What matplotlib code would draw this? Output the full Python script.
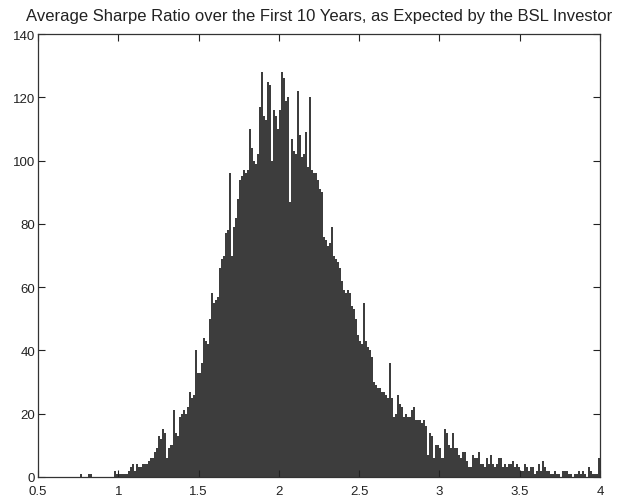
"""Histogram of the average Sharpe ratio expected by the BSL investor"""

import numpy as np
import matplotlib
matplotlib.use("Agg")
import matplotlib.pyplot as plt

plt.rcParams["font.family"] = ["Liberation Sans", "DejaVu Sans"]

bin_start = 0.75
bin_width = 0.0125
# counts per bin, one row = 0.25 in Sharpe ratio
counts = [
    0, 1, 0, 0, 0, 1, 1, 0, 0, 0, 0, 0, 0, 0, 0, 0, 0, 0, 2, 1,            # 0.75
    1, 1, 1, 1, 1, 2, 3, 4, 2, 4, 3, 3, 4, 4, 4, 5, 6, 6, 8, 9,            # 1.00
    13, 12, 15, 14, 6, 9, 10, 21, 14, 13, 19, 20, 21, 20, 22, 27, 25, 26, 40, 33,  # 1.25
    33, 36, 44, 43, 42, 50, 58, 55, 56, 57, 66, 69, 70, 77, 78, 96, 70, 79, 82, 88,  # 1.50
    94, 95, 97, 96, 97, 110, 104, 100, 99, 102, 117, 128, 114, 113, 125, 124, 100, 116, 114, 110,  # 1.75
    116, 128, 126, 119, 120, 87, 107, 103, 102, 122, 108, 101, 102, 109, 98, 120, 97, 96, 96, 94,  # 2.00
    91, 90, 76, 75, 73, 74, 79, 70, 69, 68, 66, 62, 59, 58, 59, 58, 54, 53, 50, 45,  # 2.25
    43, 42, 55, 43, 41, 40, 38, 30, 29, 28, 28, 27, 27, 26, 25, 36, 25, 19, 20, 26,  # 2.50
    23, 22, 19, 20, 19, 19, 21, 22, 18, 18, 18, 17, 18, 16, 7, 14, 13, 6, 10, 10,  # 2.75
    9, 6, 15, 14, 10, 9, 14, 9, 9, 7, 6, 8, 8, 5, 3, 3, 7, 6, 6, 8,        # 3.00
    4, 4, 3, 6, 4, 7, 4, 3, 4, 6, 6, 3, 4, 3, 4, 4, 5, 3, 4, 3,            # 3.25
    2, 2, 4, 3, 2, 3, 3, 1, 2, 4, 2, 5, 3, 2, 2, 1, 1, 2, 1, 1,            # 3.50
    0, 2, 2, 2, 1, 1, 0, 1, 1, 2, 1, 2, 1, 0, 3, 2, 1, 1, 1, 6,            # 3.75
]
x_ticks = [0.5, 1, 1.5, 2, 2.5, 3, 3.5, 4]
y_ticks = [0, 20, 40, 60, 80, 100, 120, 140]
title = "Average Sharpe Ratio over the First 10 Years, as Expected by the BSL Investor"

lefts = bin_start + bin_width * np.arange(len(counts))

fig = plt.figure(figsize=(6.18, 5.02), dpi=100)
ax = fig.add_axes([0.0615, 0.048, 0.9095, 0.882])
ax.bar(lefts, counts, width=bin_width, align="edge", color="#3d3d3d",
       edgecolor="none", linewidth=0)

ax.set_xlim(0.5, 4)
ax.set_ylim(0, 140)
ax.set_xticks(x_ticks)
ax.set_xticklabels([f"{t:g}" for t in x_ticks])
ax.set_yticks(y_ticks)
ax.tick_params(direction="in", top=True, right=True, length=5, width=0.8,
               labelsize=9.5, colors="#222222")
ax.tick_params(axis="x", pad=5.5)
ax.tick_params(axis="y", pad=2)
for s in ax.spines.values():
    s.set_color("#333333")
    s.set_linewidth(0.9)
ax.set_title(title, fontsize=12, color="#222222", pad=10)

fig.savefig("out.png", dpi=100)
plt.close(fig)
